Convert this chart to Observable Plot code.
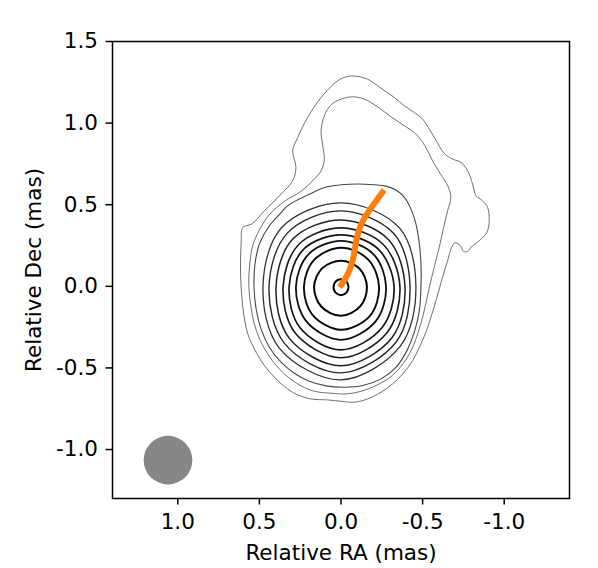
<!DOCTYPE html>
<html>
<head>
<meta charset="utf-8">
<script src="https://cdn.jsdelivr.net/npm/d3@7"></script>
<script src="https://cdn.jsdelivr.net/npm/@observablehq/plot@0.6"></script>
<style>
  html, body { margin: 0; padding: 0; background: #fff; }
  #chart svg { display: block; }
</style>
</head>
<body>
<div id="chart"></div>
<script>
// ---- Data (in mas) ----
const xTicks = [1.0, 0.5, 0.0, -0.5, -1.0];
const yTicks = [-1.0, -0.5, 0.0, 0.5, 1.0, 1.5];

// Outermost contour (level 1), with the northern loop
const contourAx = [0.602,0.571,0.541,0.469,0.367,0.296,0.276,0.296,0.265,0.204,0.122,0.020,-0.041,-0.102,-0.163,-0.224,-0.276,-0.327,-0.388,-0.449,-0.494,-0.535,-0.578,-0.633,-0.684,-0.735,-0.776,-0.806,-0.827,-0.867,-0.898,-0.908,-0.894,-0.847,-0.796,-0.776,-0.751,-0.731,-0.698,-0.678,-0.653,-0.622,-0.588,-0.551,-0.520,-0.480,-0.439,-0.378,-0.316,-0.245,-0.163,-0.082,0.000,0.082,0.184,0.265,0.327,0.408,0.469,0.520,0.571,0.596,0.612,0.616,0.612];
const contourAy = [0.361,0.373,0.386,0.463,0.565,0.647,0.729,0.831,0.912,1.035,1.157,1.259,1.286,1.286,1.269,1.229,1.192,1.157,1.106,1.065,1.031,0.973,0.902,0.814,0.780,0.759,0.708,0.627,0.555,0.524,0.484,0.402,0.331,0.280,0.239,0.214,0.214,0.249,0.267,0.239,0.157,0.055,-0.067,-0.190,-0.282,-0.373,-0.455,-0.537,-0.598,-0.649,-0.690,-0.710,-0.704,-0.696,-0.690,-0.665,-0.629,-0.557,-0.486,-0.404,-0.292,-0.169,-0.006,0.137,0.259];

// Second contour (level 2), inner edge of the loop
const contourBx = [0.565,0.559,0.541,0.500,0.439,0.345,0.245,0.173,0.122,0.102,0.112,0.122,0.102,0.061,0.000,-0.071,-0.143,-0.224,-0.306,-0.388,-0.459,-0.514,-0.561,-0.612,-0.657,-0.673,-0.653,-0.629,-0.602,-0.571,-0.541,-0.510,-0.473,-0.429,-0.367,-0.296,-0.214,-0.122,-0.031,0.061,0.163,0.245,0.316,0.384,0.443,0.494,0.531,0.553];
const contourBy = [0.000,0.137,0.249,0.345,0.439,0.522,0.582,0.647,0.708,0.780,0.861,0.953,1.045,1.112,1.147,1.161,1.147,1.100,1.039,0.984,0.933,0.861,0.769,0.684,0.610,0.545,0.463,0.361,0.239,0.116,-0.006,-0.149,-0.282,-0.394,-0.492,-0.561,-0.608,-0.643,-0.659,-0.655,-0.643,-0.610,-0.563,-0.500,-0.424,-0.333,-0.231,-0.118];

// Third contour (level 3), outermost of the core set
const contourCx = [0.533,0.527,0.500,0.439,0.378,0.327,0.255,0.184,0.102,0.000,-0.102,-0.204,-0.276,-0.337,-0.388,-0.429,-0.459,-0.480,-0.490,-0.490,-0.480,-0.449,-0.404,-0.337,-0.245,-0.133,-0.020,0.092,0.194,0.286,0.367,0.439,0.490,0.520];
const contourCy = [0.000,0.137,0.259,0.371,0.439,0.494,0.535,0.569,0.606,0.622,0.627,0.622,0.614,0.590,0.545,0.473,0.382,0.259,0.137,0.000,-0.149,-0.282,-0.394,-0.496,-0.567,-0.608,-0.618,-0.610,-0.582,-0.533,-0.465,-0.373,-0.261,-0.139];

// Core contours (levels 4..12): distance from the peak (mas) toward
// right, upper-right, up, upper-left, left, lower-left, down, lower-right
const coreDirections = [0, 45, 90, 135, 180, 225, 270, 315];
const coreRadii = [
  [0.459, 0.508, 0.514, 0.514, 0.478, 0.533, 0.570, 0.514],
  [0.423, 0.459, 0.465, 0.465, 0.441, 0.490, 0.527, 0.478],
  [0.392, 0.410, 0.410, 0.416, 0.398, 0.447, 0.484, 0.441],
  [0.361, 0.367, 0.361, 0.367, 0.355, 0.398, 0.435, 0.398],
  [0.325, 0.325, 0.318, 0.325, 0.318, 0.355, 0.386, 0.355],
  [0.276, 0.282, 0.282, 0.282, 0.276, 0.300, 0.325, 0.300],
  [0.233, 0.236, 0.239, 0.233, 0.227, 0.245, 0.263, 0.251],
  [0.159, 0.159, 0.159, 0.162, 0.165, 0.171, 0.178, 0.168],
  [0.046, 0.046, 0.046, 0.046, 0.046, 0.049, 0.052, 0.049]
];
const peak = [0.0, -0.003];

// Line styling per contour level (outer → inner)
const levelGreys = [95, 95, 70, 50, 40, 32, 26, 20, 15, 10, 5, 0];
const levelWidths = [0.9, 0.9, 1.1, 1.3, 1.4, 1.5, 1.6, 1.7, 1.8, 1.9, 2.0, 2.0];

// Jet ridge line
const ridgeX = [0.008, -0.031, -0.057, -0.076, -0.090, -0.106, -0.139, -0.180, -0.224, -0.265];
const ridgeY = [-0.006, 0.055, 0.112, 0.178, 0.259, 0.331, 0.410, 0.473, 0.535, 0.590];

// Restoring beam (circular)
const beamX = 1.06, beamY = -1.065, beamDiameter = 0.298;

// ---- Build ----
const width = 598, height = 568;
const mL = 112, mR = 29, mT = 41, mB = 70;
const xDomain = [1.4, -1.4], yDomain = [-1.3, 1.5];

const zip = (xs, ys) => xs.map((x, i) => ({x, y: ys[i]}));
const contours = [zip(contourAx, contourAy), zip(contourBx, contourBy), zip(contourCx, contourCy)];
// RA increases to the left, so "right" on the map is negative x.
coreRadii.forEach(rs => {
  contours.push(rs.map((r, i) => {
    const a = coreDirections[i] * Math.PI / 180;
    return {x: peak[0] - r * Math.cos(a), y: peak[1] + r * Math.sin(a)};
  }));
});

const contourMarks = contours.map((pts, i) => {
  const g = levelGreys[i];
  return Plot.line(pts, {
    x: "x", y: "y",
    curve: "catmull-rom-closed",
    stroke: `rgb(${g},${g},${g})`,
    strokeWidth: levelWidths[i]
  });
});

const pxPerMas = (width - mL - mR) / Math.abs(xDomain[1] - xDomain[0]);
const fmt = d => d.toFixed(1);

const chart = Plot.plot({
  width, height,
  marginLeft: mL, marginRight: mR, marginTop: mT, marginBottom: mB,
  x: {domain: xDomain},
  y: {domain: yDomain},
  style: {fontFamily: "DejaVu Sans, sans-serif", fontSize: "21.5px", background: "white", color: "black"},
  marks: [
    ...contourMarks,
    Plot.line(zip(ridgeX, ridgeY), {x: "x", y: "y", curve: "catmull-rom", stroke: "#ff7f0e", strokeWidth: 6, strokeLinecap: "butt"}),
    Plot.dot([{x: beamX, y: beamY}], {x: "x", y: "y", r: beamDiameter / 2 * pxPerMas, fill: "#878787", stroke: "none"}),
    Plot.frame({stroke: "black", strokeWidth: 1.5}),
    Plot.axisX({ticks: xTicks, tickFormat: fmt, tickSize: 6.5, tickPadding: 9, strokeWidth: 1.5,
      label: "Relative RA (mas)", labelAnchor: "center", labelArrow: "none", labelOffset: 61}),
    Plot.axisY({ticks: yTicks, tickFormat: fmt, tickSize: 6.5, tickPadding: 8, strokeWidth: 1.5,
      label: "Relative Dec (mas)", labelAnchor: "center", labelArrow: "none", labelOffset: 87})
  ]
});
document.getElementById("chart").appendChild(chart);
</script>
</body>
</html>
